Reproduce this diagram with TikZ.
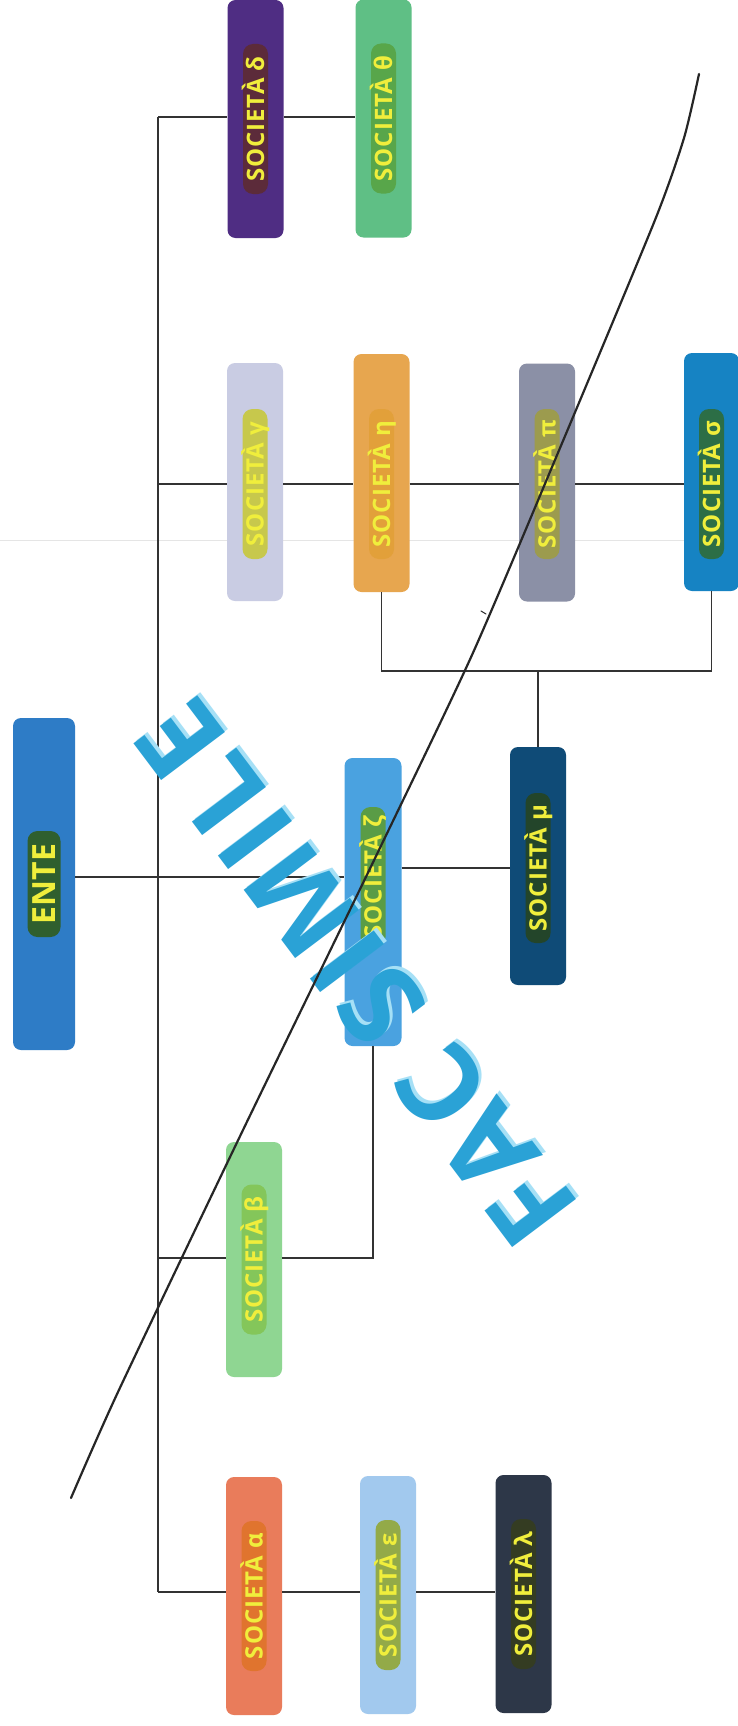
\documentclass[tikz,border=0pt]{standalone}
\usepackage{fontspec}
\setmainfont{Open Sans}
\newlength{\du}
\setlength{\du}{1pt}

\definecolor{entebox}{rgb}{0.180000, 0.486000, 0.776000}
\definecolor{entepill}{rgb}{0.184000, 0.373000, 0.180000}
\definecolor{deltabox}{rgb}{0.310000, 0.176000, 0.514000}
\definecolor{deltapill}{rgb}{0.361000, 0.169000, 0.227000}
\definecolor{thetabox}{rgb}{0.373000, 0.749000, 0.522000}
\definecolor{thetapill}{rgb}{0.345000, 0.651000, 0.290000}
\definecolor{gammabox}{rgb}{0.788000, 0.800000, 0.890000}
\definecolor{gammapill}{rgb}{0.780000, 0.784000, 0.298000}
\definecolor{etabox}{rgb}{0.906000, 0.651000, 0.310000}
\definecolor{etapill}{rgb}{0.886000, 0.627000, 0.227000}
\definecolor{pibox}{rgb}{0.545000, 0.565000, 0.651000}
\definecolor{pipill}{rgb}{0.612000, 0.608000, 0.306000}
\definecolor{sigmabox}{rgb}{0.086000, 0.514000, 0.765000}
\definecolor{sigmapill}{rgb}{0.173000, 0.431000, 0.275000}
\definecolor{zetabox}{rgb}{0.290000, 0.635000, 0.878000}
\definecolor{zetapill}{rgb}{0.353000, 0.612000, 0.275000}
\definecolor{mubox}{rgb}{0.059000, 0.294000, 0.467000}
\definecolor{mupill}{rgb}{0.137000, 0.271000, 0.165000}
\definecolor{betabox}{rgb}{0.561000, 0.839000, 0.573000}
\definecolor{betapill}{rgb}{0.518000, 0.776000, 0.353000}
\definecolor{alphabox}{rgb}{0.914000, 0.486000, 0.357000}
\definecolor{alphapill}{rgb}{0.878000, 0.455000, 0.180000}
\definecolor{epsbox}{rgb}{0.635000, 0.788000, 0.933000}
\definecolor{epspill}{rgb}{0.576000, 0.667000, 0.282000}
\definecolor{lambdabox}{rgb}{0.176000, 0.216000, 0.282000}
\definecolor{lambdapill}{rgb}{0.204000, 0.235000, 0.133000}
\definecolor{labelyellow}{rgb}{0.941000, 0.933000, 0.235000}
\definecolor{linkgray}{rgb}{0.200000, 0.200000, 0.200000}
\definecolor{stampblue}{rgb}{0.165000, 0.635000, 0.839000}
\definecolor{stamplight}{rgb}{0.651000, 0.878000, 0.965000}

\tikzset{
  box/.style={rounded corners=8\du, minimum width=56\du, minimum height=238\du, inner sep=0pt},
  pill/.style={rotate=90, rounded corners=10\du, minimum width=150\du, inner xsep=6\du, inner ysep=4\du,
    text height=17\du, text depth=0pt, text=labelyellow,
    font=\fontsize{24}{24}\selectfont\bfseries\addfontfeatures{LetterSpace=4}},
  link/.style={draw=linkgray, line width=1.3\du},
  handline/.style={draw=black!85, line width=2.2\du, line cap=round, line join=round},
  facsimile/.style={rotate=127, inner sep=0pt,
    font=\fontsize{112}{112}\selectfont\bfseries\addfontfeatures{LetterSpace=5}}
}

\begin{document}
\begin{tikzpicture}
\pgftransformxscale{1.000000}
\pgftransformyscale{-1.000000}
\useasboundingbox (0\du,0\du) rectangle (738\du,1726\du);
\fill[white] (0\du,0\du) rectangle (738\du,1726\du);
\draw[black!10, line width=0.8\du] (0\du,540\du) -- (738\du,540\du);

\node[box, fill=entebox, minimum width=62\du, minimum height=332\du] (ente) at (44\du,884\du) {};
\node[box, fill=deltabox] (delta) at (255.5\du,119\du) {};
\node[box, fill=thetabox] (theta) at (383.5\du,118.5\du) {};
\node[box, fill=gammabox] (gamma) at (255\du,482\du) {};
\node[box, fill=etabox] (eta) at (381.5\du,473\du) {};
\node[box, fill=pibox] (pi) at (547\du,482.5\du) {};
\node[box, fill=sigmabox, minimum width=55\du] (sigma) at (711.5\du,472\du) {};
\node[box, fill=zetabox, minimum width=57\du, minimum height=288\du] (zeta) at (373\du,902\du) {};
\node[box, fill=mubox] (mu) at (538\du,866\du) {};
\node[box, fill=betabox, minimum height=235\du] (beta) at (254\du,1259.5\du) {};
\node[box, fill=alphabox] (alpha) at (254\du,1596\du) {};
\node[box, fill=epsbox] (eps) at (388\du,1595\du) {};
\node[box, fill=lambdabox] (lambda) at (523.5\du,1594\du) {};

\coordinate (trunktop) at (158\du,117\du);
\coordinate (trunkbot) at (158\du,1592\du);
\coordinate (rowg) at (158\du,484\du);
\coordinate (rowz) at (158\du,877\du);
\coordinate (rowm) at (158\du,868\du);
\coordinate (rowb) at (158\du,1258\du);
\coordinate (bracket) at (158\du,671\du);

% links
\draw[link] (trunktop) -- (trunkbot);
\draw[link] (trunktop) -- (trunktop -| delta.west);
\draw[link] (delta.east |- trunktop) -- (theta.west |- trunktop);
\draw[link] (rowg) -- (rowg -| gamma.west);
\draw[link] (gamma.east |- rowg) -- (eta.west |- rowg);
\draw[link] (eta.east |- rowg) -- (pi.west |- rowg);
\draw[link] (pi.east |- rowg) -- (sigma.west |- rowg);
\draw[link] (ente.east |- rowz) -- (zeta.west |- rowz);
\draw[link] (zeta.east |- rowm) -- (mu.west |- rowm);
\draw[link] (rowb) -- (rowb -| beta.west);
\draw[link] (beta.east |- rowb) -| (zeta.south);
\draw[link] (trunkbot) -- (trunkbot -| alpha.west);
\draw[link] (alpha.east |- trunkbot) -- (eps.west |- trunkbot);
\draw[link] (eps.east |- trunkbot) -- (lambda.west |- trunkbot);
\draw[link] (eta.south) -- (eta.south |- bracket) -- (sigma.south |- bracket) -- (sigma.south);
\draw[link] (mu.north |- bracket) -- (mu.north);

% labels
\node[pill, fill=entepill, minimum width=106\du, text height=23\du, inner ysep=5\du,
  font=\fontsize{32}{32}\selectfont\bfseries] (ente-t) at (ente) {ENTE};
\node[pill, fill=deltapill] (delta-t) at (delta) {SOCIETÀ δ};
\node[pill, fill=thetapill] (theta-t) at (theta) {SOCIETÀ θ};
\node[pill, fill=gammapill] (gamma-t) at (gamma |- rowg) {SOCIETÀ γ};
\node[pill, fill=etapill] (eta-t) at (eta |- rowg) {SOCIETÀ η};
\node[pill, fill=pipill] (pi-t) at (pi |- rowg) {SOCIETÀ π};
\node[pill, fill=sigmapill] (sigma-t) at (sigma |- rowg) {SOCIETÀ σ};
\node[pill, fill=zetapill, minimum width=140\du] (zeta-t) at (zeta |- rowz) {SOCIETÀ ζ};
\node[pill, fill=mupill] (mu-t) at (mu |- rowm) {SOCIETÀ μ};
\node[pill, fill=betapill] (beta-t) at (beta) {SOCIETÀ β};
\node[pill, fill=alphapill] (alpha-t) at (alpha) {SOCIETÀ α};
\node[pill, fill=epspill] (eps-t) at (eps) {SOCIETÀ ε};
\node[pill, fill=lambdapill] (lambda-t) at (lambda) {SOCIETÀ λ};

% stamp
\node[facsimile, text=stamplight] (stamp-s) at (359\du,970\du) {FAC SIMILE};
\node[facsimile, text=stampblue] (stamp) at (356\du,973\du) {FAC SIMILE};
\draw[handline] plot[smooth, tension=0.4] coordinates {(71\du,1498\du) (118\du,1392\du) (243\du,1130\du)
  (378\du,852\du) (472\du,655\du) (560\du,448\du) (655\du,220\du) (684\du,138\du) (699\du,74\du)};
\draw[handline, line width=1\du] (481\du,611\du) -- (486\du,614\du);
\end{tikzpicture}
\end{document}
